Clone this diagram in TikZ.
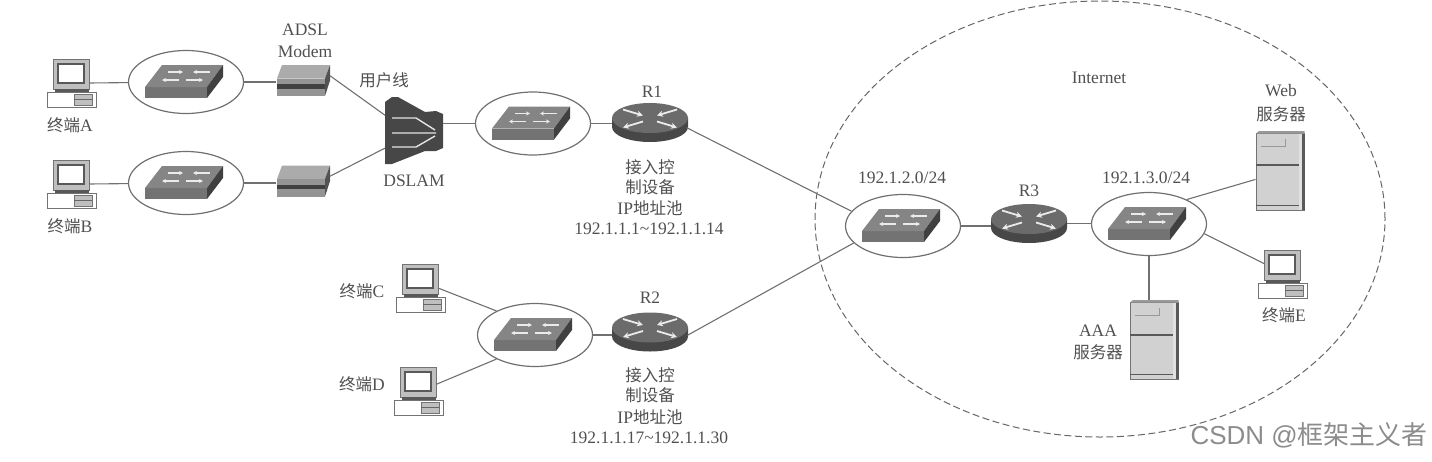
\documentclass[tikz,border=0pt]{standalone}
\usepackage{fontspec}
\usetikzlibrary{shapes.geometric,arrows.meta}
\setmainfont{Liberation Serif}
\newfontfamily\cjk{Noto Sans CJK SC}
\newfontfamily\wmfont{Liberation Sans}
\newcommand{\zh}[1]{{\cjk\fontsize{16.5}{18}\selectfont #1}}
\definecolor{ink}{HTML}{505050}
\definecolor{wire}{HTML}{707070}
\tikzset{
  lbl/.style={inner sep=0pt,text=ink,font=\fontsize{17.5}{18}\selectfont},
  wirel/.style={draw=wire,line width=1.1pt},
  hub/.style={ellipse,draw=wire,line width=1.2pt,inner sep=0pt,minimum width=115pt,minimum height=63pt},
  hit/.style={inner sep=0pt,outer sep=0pt},
  pcbox/.style={hit,rectangle,minimum width=36pt,minimum height=48pt},
  modembox/.style={hit,rectangle,minimum width=54pt,minimum height=31pt},
  routerbox/.style={hit,ellipse,minimum width=76pt,minimum height=39pt},
  serverbox/.style={hit,rectangle,minimum width=49pt,minimum height=79pt},
  switchicon/.pic={
    \fill[black!55] (-41,5) -- (21,5) -- (21,16) -- (-41,16) -- cycle;
    \fill[black!48] (-41,5) -- (-24,-17) -- (37,-17) -- (21,5) -- cycle;
    \fill[black!75] (21,5) -- (37,-17) -- (37,-5) -- (21,16) -- cycle;
    \draw[white!92!black,line width=1.6pt,-{Stealth[length=4pt,width=4pt]}] (-7,-2) -- (-24,-2);
    \draw[white!92!black,line width=1.6pt,-{Stealth[length=4pt,width=4pt]}] (-18,-10) -- (-3,-10);
    \draw[white!92!black,line width=1.6pt,-{Stealth[length=4pt,width=4pt]}] (24,-10) -- (7,-10);
    \draw[white!92!black,line width=1.6pt,-{Stealth[length=4pt,width=4pt]}] (0,-2) -- (17,-2);
  },
  routericon/.pic={
    \fill[black!72] (-38,-4.5) -- (-38,4.5) arc[start angle=180,end angle=0,x radius=38,y radius=15] -- (38,-4.5) -- cycle;
    \fill[black!58] (0,-4.5) ellipse[x radius=38,y radius=15];
    \draw[white!92!black,line width=1.8pt,-{Stealth[length=6pt,width=6pt]}] (-27,-13) -- (-7,-7);
    \draw[white!92!black,line width=1.8pt,-{Stealth[length=6pt,width=6pt]}] (27,-13) -- (7,-7);
    \draw[white!92!black,line width=1.8pt,{Stealth[length=6pt,width=6pt]}-] (-27,5) -- (-7,-1);
    \draw[white!92!black,line width=1.8pt,{Stealth[length=6pt,width=6pt]}-] (27,5) -- (7,-1);
  },
  modemicon/.pic={
    \fill[black!33] (-26,-2) -- (-21,-15.5) -- (27,-15.5) -- (22,-2) -- cycle;
    \fill[black!42] (-26,-2) rectangle (22,15.5);
    \fill[black!75] (-26,3.5) rectangle (22,8);
    \fill[black!68] (22,-2) -- (27,-15.5) -- (27,0) -- (22,15.5) -- cycle;
  },
  pcicon/.pic={
    \draw[black!55,fill=black!25,line width=0.8pt] (-18,-24) rectangle (18,6);
    \draw[black!65,fill=white,line width=1.2pt] (-13,-19) rectangle (13,0);
    \draw[black!55,fill=white,line width=0.8pt] (-24,9) rectangle (25,24);
    \fill[black!65] (-16,6) rectangle (18,9);
    \draw[black!55,fill=black!25,line width=0.6pt] (3,11) rectangle (21,22);
    \draw[black!60,line width=0.7pt] (3,16.5) -- (21,16.5);
  },
  servericon/.pic={
    \draw[black!55,fill=black!18,line width=1pt] (-24,-37) rectangle (24,39.5);
    \fill[black!12] (19,-37) rectangle (22,39.5);
    \fill[black!65] (22,-37) rectangle (24.5,39.5);
    \fill[black!40] (-24,-37) -- (-21,-39.5) -- (24.5,-39.5) -- (24.5,-37) -- cycle;
    \draw[black!65,line width=1.1pt] (-24,#1) -- (19,#1);
    \draw[black!65,line width=1.1pt] (-24,35) -- (19,35);
    \draw[black!40,line width=0.6pt] (-19,-24) -- (5,-24) -- (5,-32);
  },
}
\begin{document}
\begin{tikzpicture}[x=1pt,y=-1pt]
\useasboundingbox (0,0) rectangle (1432,461);
% dashed Internet boundary
\node[ellipse,draw=black!60,line width=1pt,dash pattern=on 7pt off 3.5pt,inner sep=0pt,minimum width=570pt,minimum height=436pt] (cloud) at (1100,219) {};
% hubs
\node[hub] (e1) at (186,82) {};
\node[hub] (e2) at (186,183) {};
\node[hub] (e3) at (533,123.5) {};
\node[hub] (e4) at (535,335) {};
\node[hub] (e5) at (903,226) {};
\node[hub] (e6) at (1149,224) {};
\foreach \px/\py in {186/82,186/183,533/123.5,535/335,903/226,1149/224} \pic at (\px,\py) {switchicon};
% routers
\node[routerbox] (r1) at (650,122.5) {};
\node[routerbox] (r2) at (650,332) {};
\node[routerbox] (r3) at (1029,223.5) {};
\foreach \px/\py in {650/122.5,650/332,1029/223.5} \pic at (\px,\py) {routericon};
% terminals
\node[pcbox] (pa) at (71,83) {};
\node[pcbox] (pb) at (71,184) {};
\node[pcbox] (pc) at (420,288) {};
\node[pcbox] (pd) at (418,391) {};
\node[pcbox] (pe) at (1282,274) {};
\foreach \px/\py in {71/83,71/184,420/288,418/391,1282/274} \pic at (\px,\py) {pcicon};
% modems
\node[modembox] (ma) at (303,80.5) {};
\node[modembox] (mb) at (303,181) {};
\pic at (303,80.5) {modemicon};
\pic at (303,181) {modemicon};
% DSLAM
\node[hit,rectangle,minimum width=58pt,minimum height=68pt] (ds) at (414,130) {};
\fill[black!72] (385,102) -- (392,97) -- (398,97) -- (425,112) -- (436,111) -- (443,114) -- (443,148) -- (436,151) -- (425,151) -- (392,164) -- (385,164) -- cycle;
\draw[white!90!black,line width=1.4pt] (392,118) -- (416,118) -- (435,130) (392,133) -- (436,133) (392,147) -- (416,147) -- (435,136);
% servers
\node[serverbox] (web) at (1280,170.5) {};
\node[serverbox] (aaa) at (1154,339.5) {};
\pic at (1280,170.5) {servericon=-5.5};
\pic at (1154,339.5) {servericon=-4.5};
% connectors
\draw[wirel] (pa.east) -- (e1);
\draw[wirel] (pb.east) -- (e2);
\draw[wirel] (e1) -- (e1 -| ma.west);
\draw[wirel] (e2) -- (e2 -| mb.west);
\draw[wirel] (ma.10) -- (ds.153);
\draw[wirel] (mb.10) -- (ds.212);
\draw[wirel] (e3.west) -- (e3.west -| ds.east);
\draw[wirel] (e3) -- (e3 -| r1.west);
\draw[wirel] (r1.-8) -- (e5.164);
\draw[wirel] (r2.-5) -- (e5.199);
\draw[wirel] (pc.east) -- (e4.148);
\draw[wirel] (pd.20) -- (e4.212);
\draw[wirel] (e4.east) -- (e4.east -| r2.west);
\draw[wirel] (e5.east) -- (e5.east -| r3.west);
\draw[wirel] (r3.east) -- (r3.east -| e6.west);
\draw[wirel] (e6.33) -- (web.200);
\draw[wirel] (e6.-10) -- (pe.150);
\draw[wirel] (e6.south) -- (e6.south |- aaa.north);
% labels
\node[lbl] (t1) at (305,30) {ADSL};
\node[lbl] (t2) at (305,52) {Modem};
\node[lbl] (t3) at (384,80) {\zh{用户线}};
\node[lbl] (t4) at (414,181) {DSLAM};
\node[lbl] (t5) at (70,125) {\zh{终端}A};
\node[lbl] (t6) at (70,226) {\zh{终端}B};
\node[lbl] (t7) at (652,92) {R1};
\node[lbl] (t8) at (650,167) {\zh{接入控}};
\node[lbl] (t9) at (650,187) {\zh{制设备}};
\node[lbl] (t10) at (650,208) {IP\zh{地址池}};
\node[lbl] (t11) at (649,229) {192.1.1.1\textasciitilde192.1.1.14};
\node[lbl] (t12) at (650,298) {R2};
\node[lbl] (t13) at (650,375) {\zh{接入控}};
\node[lbl] (t14) at (650,395) {\zh{制设备}};
\node[lbl] (t15) at (650,417) {IP\zh{地址池}};
\node[lbl] (t16) at (649,438) {192.1.1.17\textasciitilde192.1.1.30};
\node[lbl] (t17) at (362,291) {\zh{终端}C};
\node[lbl] (t18) at (362,384) {\zh{终端}D};
\node[lbl] (t19) at (902,178) {192.1.2.0/24};
\node[lbl] (t20) at (1029,191) {R3};
\node[lbl] (t21) at (1146,178) {192.1.3.0/24};
\node[lbl] (t22) at (1099,78) {Internet};
\node[lbl] (t23) at (1281,91) {Web};
\node[lbl] (t24) at (1281,114) {\zh{服务器}};
\node[lbl] (t25) at (1098,331) {AAA};
\node[lbl] (t26) at (1098,352) {\zh{服务器}};
\node[lbl] (t27) at (1284,315) {\zh{终端}E};
\node[inner sep=0pt,text=black!45,font=\fontsize{26}{28}\selectfont\wmfont,anchor=east] (wm) at (1428,435) {CSDN @{\cjk 框架主义者}};
\end{tikzpicture}
\end{document}
